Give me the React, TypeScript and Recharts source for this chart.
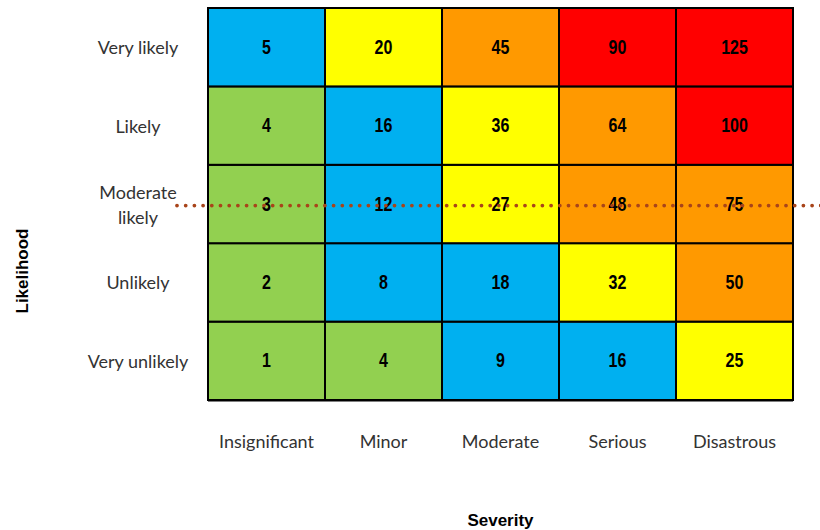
import React from 'react';
import {
  ScatterChart,
  Scatter,
  XAxis,
  YAxis,
  ReferenceLine,
} from 'recharts';

const severities = ['Insignificant', 'Minor', 'Moderate', 'Serious', 'Disastrous'];
// bottom to top
const likelihoods = ['Very unlikely', 'Unlikely', 'Moderate likely', 'Likely', 'Very likely'];
const scores = [
  [1, 4, 9, 16, 25],
  [2, 8, 18, 32, 50],
  [3, 12, 27, 48, 75],
  [4, 16, 36, 64, 100],
  [5, 20, 45, 90, 125],
];
const riskLevel = 2.48;

const W = 820;
const H = 530;
const margin = { top: 8, right: 27, bottom: 0, left: 0 };
const yAxisWidth = 208;
const xAxisHeight = 130;
const cellW = (W - margin.left - margin.right - yAxisWidth) / 5;
const cellH = (H - margin.top - margin.bottom - xAxisHeight) / 5;

const colorFor = (v: number) => {
  if (v >= 90) return '#FF0000';
  if (v >= 45) return '#FF9900';
  if (v >= 20) return '#FFFF00';
  if (v >= 5) return '#00B0F0';
  return '#92D050';
};

const cells = scores.flatMap((row, li) =>
  row.map((v, si) => ({ x: si + 0.5, y: li + 0.5, value: v }))
);

const labelFont = "'Lato', 'DejaVu Sans', sans-serif";
const numFont = "'Liberation Sans', Arial, sans-serif";

const CellShape = (props: any) => {
  const { cx, cy, payload } = props;
  return (
    <g>
      <rect
        x={cx - cellW / 2}
        y={cy - cellH / 2}
        width={cellW}
        height={cellH}
        fill={colorFor(payload.value)}
        stroke="#000"
        strokeWidth={2}
      />
      <text
        transform={`translate(${cx},${cy}) scale(0.8,1)`}
        x={0}
        y={0}
        textAnchor="middle"
        dominantBaseline="central"
        fontFamily={numFont}
        fontWeight="bold"
        fontSize={20}
        fill="#000"
      >
        {payload.value}
      </text>
    </g>
  );
};

const XTick = (props: any) => {
  const { x, y, payload } = props;
  return (
    <text x={x} y={y + 33} textAnchor="middle" dominantBaseline="central"
      fontFamily={labelFont} fontSize={18} fill="#333">
      {severities[Math.floor(payload.value)]}
    </text>
  );
};

const YTick = (props: any) => {
  const { y, payload } = props;
  const label = likelihoods[Math.floor(payload.value)];
  const words = label === 'Moderate likely' ? ['Moderate', 'likely'] : [label];
  const lh = 25;
  return (
    <text x={138} y={y} textAnchor="middle" fontFamily={labelFont} fontSize={18} fill="#333">
      {words.map((w, i) => (
        <tspan key={i} x={138} y={y + (i - (words.length - 1) / 2) * lh} dominantBaseline="central">
          {w}
        </tspan>
      ))}
    </text>
  );
};

export default function App() {
  return (
    <div style={{ position: 'absolute', left: 0, top: 0, background: '#fff' }}>
      <ScatterChart width={W} height={H} margin={margin}>
        <XAxis
          type="number"
          dataKey="x"
          domain={[0, 5]}
          ticks={[0.5, 1.5, 2.5, 3.5, 4.5]}
          height={xAxisHeight}
          tickLine={false}
          axisLine={{ stroke: '#000', strokeWidth: 3 }}
          tick={<XTick />}
          label={{
            value: 'Severity',
            position: 'insideBottom',
            offset: 4,
            style: { fontFamily: "'Liberation Sans', sans-serif", fontWeight: 'bold', fontSize: 17, fill: '#000' },
          }}
        />
        <YAxis
          type="number"
          dataKey="y"
          domain={[0, 5]}
          ticks={[0.5, 1.5, 2.5, 3.5, 4.5]}
          width={yAxisWidth}
          tickLine={false}
          axisLine={false}
          tick={<YTick />}
          label={{
            value: 'Likelihood',
            angle: -90,
            position: 'insideLeft',
            offset: 22,
            dy: 67,
            style: { fontFamily: "'Liberation Sans', sans-serif", fontWeight: 'bold', fontSize: 17, fill: '#000', textAnchor: 'middle' },
          }}
        />
        <Scatter data={cells} shape={<CellShape />} isAnimationActive={false} />
        <ReferenceLine
          segment={[{ x: -0.265, y: riskLevel }, { x: 5.25, y: riskLevel }]}
          ifOverflow="visible"
          zIndex={2000}
          stroke="#A8441A"
          strokeWidth={3.8}
          strokeDasharray="0 8.7"
          strokeLinecap="round"
        />
      </ScatterChart>
    </div>
  );
}
